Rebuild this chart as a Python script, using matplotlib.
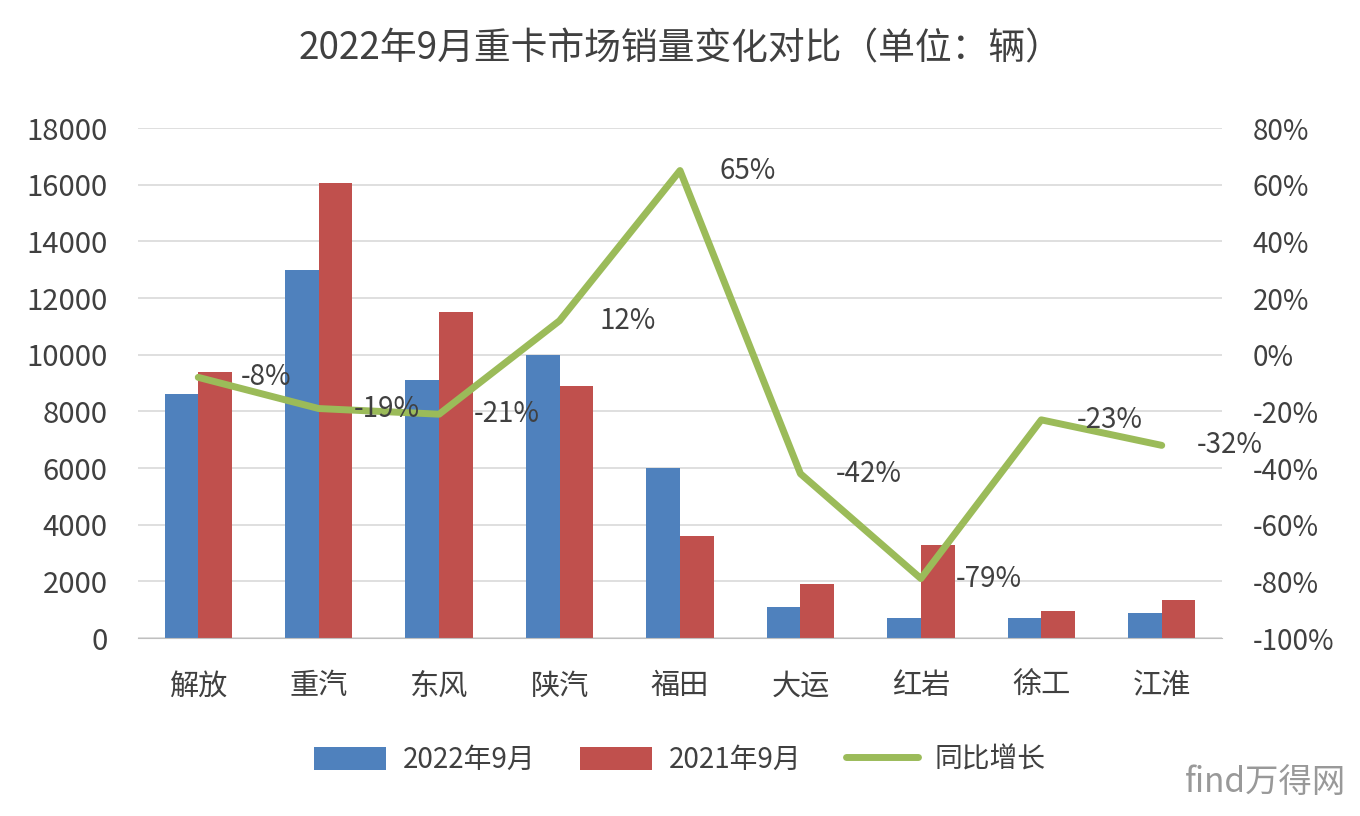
#!/usr/bin/env python3
"""Heavy truck sales Sep 2022 vs Sep 2021, bars + YoY line."""

import matplotlib

matplotlib.use("Agg")
import matplotlib.pyplot as plt
from matplotlib.ticker import FuncFormatter
import numpy as np

plt.rcParams["font.family"] = ["Noto Sans CJK SC", "DejaVu Sans"]

brands = ["解放", "重汽", "东风", "陕汽", "福田", "大运", "红岩", "徐工", "江淮"]
sales_2022 = [8600, 13000, 9100, 10000, 6000, 1100, 700, 700, 900]
sales_2021 = [9400, 16050, 11500, 8900, 3600, 1900, 3300, 950, 1350]
yoy_pct = [-8, -19, -21, 12, 65, -42, -79, -23, -32]

TEXT = "#404040"
BLUE = "#4F81BD"
RED = "#C0504D"
GREEN = "#9BBB59"
GRID = "#D9D9D9"


def main() -> None:
    fig = plt.figure(figsize=(13.6, 8.16), dpi=100)
    ax = fig.add_axes([0.1015, 0.2181, 0.797, 0.625])
    x = np.arange(len(brands))
    w = 0.28

    ax.bar(x - w / 2, sales_2022, w, color=BLUE, label="2022年9月", zorder=2)
    ax.bar(x + w / 2, sales_2021, w, color=RED, label="2021年9月", zorder=2)
    ax.set_xlim(-0.5, len(brands) - 0.5)
    ax.set_ylim(0, 18000)
    ax.set_yticks(range(0, 18001, 2000))
    ax.set_xticks(x)
    ax.set_xticklabels(brands)
    ax.grid(axis="y", color=GRID, linewidth=1.2, zorder=0)
    ax.set_axisbelow(True)
    for s in ("top", "left", "right"):
        ax.spines[s].set_visible(False)
    ax.spines["bottom"].set_color("#BFBFBF")
    ax.tick_params(axis="y", length=0, pad=22, labelsize=21, colors=TEXT)
    ax.tick_params(axis="x", length=0, pad=24, labelsize=21, colors=TEXT)

    ax2 = ax.twinx()
    ax2.set_ylim(-100, 80)
    ax2.set_yticks(range(-100, 81, 20))
    ax2.yaxis.set_major_formatter(FuncFormatter(lambda v, _: f"{v:.0f}%"))
    for s in ax2.spines.values():
        s.set_visible(False)
    ax2.tick_params(axis="y", length=0, pad=22, labelsize=20, colors=TEXT)
    line, = ax2.plot(x, yoy_pct, color=GREEN, linewidth=5, label="同比增长",
                     solid_capstyle="round", solid_joinstyle="round", zorder=3)
    for xi, v in zip(x, yoy_pct):
        ax2.annotate(f"{v}%", (xi, v), xytext=(68, 0), textcoords="offset pixels",
                     ha="center", va="center", fontsize=20, color=TEXT)

    h1, l1 = ax.get_legend_handles_labels()
    fig.legend(h1 + [line], l1 + ["同比增长"], loc="center", ncol=3,
               bbox_to_anchor=(0.5, 0.069), frameon=False, fontsize=20,
               labelcolor=TEXT, handlelength=2.6, handleheight=0.9,
               columnspacing=1.6, handletextpad=0.6)

    fig.text(0.5, 0.94, "2022年9月重卡市场销量变化对比（单位：辆）",
             ha="center", va="center", fontsize=26.5, color=TEXT)
    fig.text(0.99, 0.02, "find万得网", ha="right", va="bottom",
             fontsize=24, color="#555555", alpha=0.6)

    fig.savefig("out.png", dpi=100)


if __name__ == "__main__":
    main()
